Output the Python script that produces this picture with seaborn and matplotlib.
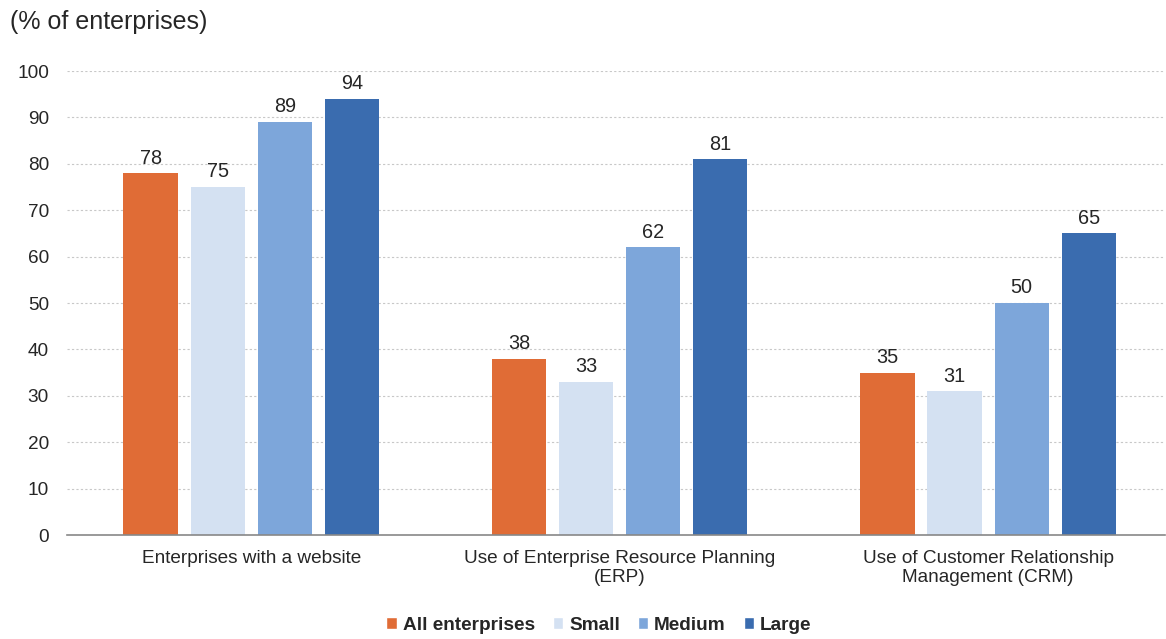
import matplotlib
matplotlib.use("Agg")
import matplotlib.pyplot as plt
import seaborn as sns
import pandas as pd
from matplotlib.patches import Patch

# data
categories = ['Enterprises with a website',
              'Use of Enterprise Resource Planning\n(ERP)',
              'Use of Customer Relationship\nManagement (CRM)']
sizes = ['All enterprises', 'Small', 'Medium', 'Large']
all_ent = [78, 38, 35]
small = [75, 33, 31]
medium = [89, 62, 50]
large = [94, 81, 65]

colors = ['#E06C36', '#D4E1F2', '#7DA6DA', '#3A6CAF']
txt = '#262626'

rows = []
for i, cat in enumerate(categories):
    for s, vals in zip(sizes, [all_ent, small, medium, large]):
        rows.append({'category': cat, 'size': s, 'value': vals[i]})
df = pd.DataFrame(rows)

sns.set_style("white")
plt.rcParams['font.family'] = ['Liberation Sans', 'DejaVu Sans']

fig = plt.figure(figsize=(11.66, 6.39), dpi=100)
ax = fig.add_axes([67/1166, 1 - 535/639, 1098/1166, (535 - 71)/639])

sns.barplot(data=df, x='category', y='value', hue='size', hue_order=sizes,
            palette=colors, width=0.728, gap=0.19, ax=ax, legend=False,
            saturation=1, edgecolor='none')

for cont in ax.containers:
    ax.bar_label(cont, fmt='%d', padding=4, fontsize=14.3, color=txt)

ax.set_ylim(0, 100)
ax.set_xlim(-0.5, 2.48)
ax.set_yticks(range(0, 101, 10))
ax.yaxis.grid(True, linestyle=(0, (2, 2)), color='#c8c8c8', linewidth=0.8)
ax.set_axisbelow(True)
ax.set_xlabel('')
ax.set_ylabel('')

for side in ['top', 'right', 'left']:
    ax.spines[side].set_visible(False)
ax.spines['bottom'].set_color('#888888')
ax.spines['bottom'].set_linewidth(1.2)

ax.tick_params(axis='x', which='major', length=0, labelsize=13.7, pad=11, colors=txt)
for lab in ax.get_xticklabels():
    lab.set_linespacing(1.1)
ax.set_xticks([-0.5, 0.5, 1.5], minor=True)
ax.tick_params(axis='x', which='minor', length=5, color='#888888', direction='out')
ax.tick_params(axis='y', length=0, labelsize=13.7, pad=13, colors=txt)

fig.text(10/1166, 1 - 22/639, '(% of enterprises)', fontsize=18, va='center', ha='left', color=txt)

handles = [Patch(facecolor=c, label=s) for c, s in zip(colors, sizes)]
leg = fig.legend(handles=handles, loc='center', bbox_to_anchor=(599/1166, 1 - 625/639),
                 ncol=4, frameon=False, handlelength=0.55, handleheight=0.55,
                 handletextpad=0.3, columnspacing=0.95,
                 prop={'weight': 'bold', 'size': 13.7})
for t in leg.get_texts():
    t.set_color(txt)

fig.savefig('out.png', dpi=100)
